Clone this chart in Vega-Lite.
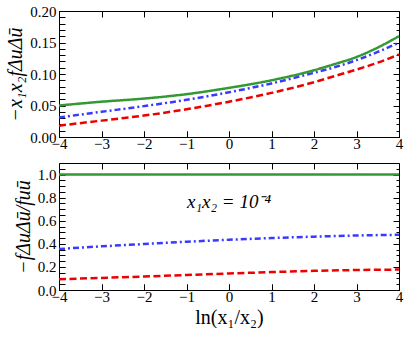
{
  "$schema": "https://vega.github.io/schema/vega-lite/v6.json",
  "padding": {"top": 4, "left": 5, "right": 9, "bottom": 0},
  "background": "white",
  "spacing": 9,
  "config": {
    "view": {"stroke": null},
    "axis": {
      "labelFont": "Liberation Serif",
      "labelFontSize": 15,
      "labelColor": "black",
      "titleFont": "Liberation Serif",
      "titleFontSize": 20,
      "titleFontWeight": "normal",
      "titleColor": "black",
      "domainColor": "black",
      "domainWidth": 1,
      "ticks": true,
      "tickColor": "black",
      "tickOpacity": 1,
      "tickWidth": 1,
      "tickSize": -6,
      "gridColor": "black",
      "gridOpacity": 1,
      "gridWidth": 1,
      "grid": false
    },
    "text": {"font": "Liberation Serif"}
  },
  "datasets": {
    "top": [
      {"series": "a", "x": -4, "y": 0.018}, {"series": "a", "x": -3, "y": 0.026}, {"series": "a", "x": -2, "y": 0.034},
      {"series": "a", "x": -1, "y": 0.044}, {"series": "a", "x": 0, "y": 0.056}, {"series": "a", "x": 1, "y": 0.070},
      {"series": "a", "x": 2, "y": 0.087}, {"series": "a", "x": 2.5, "y": 0.097}, {"series": "a", "x": 3, "y": 0.107},
      {"series": "a", "x": 3.5, "y": 0.118}, {"series": "a", "x": 4, "y": 0.131},
      {"series": "b", "x": -4, "y": 0.031}, {"series": "b", "x": -3, "y": 0.040}, {"series": "b", "x": -2, "y": 0.049},
      {"series": "b", "x": -1, "y": 0.059}, {"series": "b", "x": 0, "y": 0.071}, {"series": "b", "x": 1, "y": 0.085},
      {"series": "b", "x": 2, "y": 0.102}, {"series": "b", "x": 2.5, "y": 0.111}, {"series": "b", "x": 3, "y": 0.122},
      {"series": "b", "x": 3.5, "y": 0.135}, {"series": "b", "x": 4, "y": 0.150},
      {"series": "c", "x": -4, "y": 0.050}, {"series": "c", "x": -3, "y": 0.056}, {"series": "c", "x": -2, "y": 0.061},
      {"series": "c", "x": -1, "y": 0.068}, {"series": "c", "x": 0, "y": 0.078}, {"series": "c", "x": 1, "y": 0.090},
      {"series": "c", "x": 2, "y": 0.106}, {"series": "c", "x": 2.5, "y": 0.116}, {"series": "c", "x": 3, "y": 0.127},
      {"series": "c", "x": 3.5, "y": 0.142}, {"series": "c", "x": 4, "y": 0.160}
    ],
    "bottom": [
      {"series": "a", "x": -4, "y": 0.093}, {"series": "a", "x": -3, "y": 0.105}, {"series": "a", "x": -2, "y": 0.117},
      {"series": "a", "x": -1, "y": 0.130}, {"series": "a", "x": 0, "y": 0.143}, {"series": "a", "x": 1, "y": 0.155},
      {"series": "a", "x": 2, "y": 0.166}, {"series": "a", "x": 3, "y": 0.173}, {"series": "a", "x": 4, "y": 0.177},
      {"series": "b", "x": -4, "y": 0.355}, {"series": "b", "x": -3, "y": 0.378}, {"series": "b", "x": -2, "y": 0.398},
      {"series": "b", "x": -1, "y": 0.418}, {"series": "b", "x": 0, "y": 0.435}, {"series": "b", "x": 1, "y": 0.450},
      {"series": "b", "x": 2, "y": 0.462}, {"series": "b", "x": 3, "y": 0.472}, {"series": "b", "x": 4, "y": 0.478},
      {"series": "c", "x": -4, "y": 1.0}, {"series": "c", "x": 0, "y": 1.0}, {"series": "c", "x": 4, "y": 1.0}
    ],
    "note": [
      {"x": 0, "y": 0.76, "label": "x₁x₂ =  10⁻⁴"}
    ]
  },
  "vconcat": [
    {
      "width": 340,
      "height": 126,
      "data": {"name": "top"},
      "layer": [
        {
          "mark": {"type": "line", "strokeWidth": 2.5, "interpolate": "monotone"},
          "encoding": {
            "x": {"field": "x", "type": "quantitative",
              "scale": {"domain": [-4, 4], "nice": false, "zero": false},
              "axis": {"orient": "bottom", "title": null, "format": "d", "grid": true,
                "gridDash": {"condition": {"test": "abs(datum.value - round(datum.value)) < 1e-6", "value": [6, 114, 6, 1000]}, "value": [3, 120, 3, 1000]},
                "values": [-4,-3.75,-3.5,-3.25,-3,-2.75,-2.5,-2.25,-2,-1.75,-1.5,-1.25,-1,-0.75,-0.5,-0.25,0,0.25,0.5,0.75,1,1.25,1.5,1.75,2,2.25,2.5,2.75,3,3.25,3.5,3.75,4],
                "labelExpr": "abs(datum.value - round(datum.value)) < 1e-6 ? datum.label : ''",
                "labelPadding": 5.5, "labelFlush": false, "labelOverlap": false}},
            "y": {"field": "y", "type": "quantitative",
              "scale": {"domain": [0, 0.2], "nice": false},
              "axis": {"orient": "left", "title": "−x₁x₂fΔuΔū", "titleFontStyle": "italic", "format": ".2f", "grid": true,
                "gridDash": {"condition": {"test": "abs(datum.value*20 - round(datum.value*20)) < 1e-6", "value": [6, 328, 6, 1000]}, "value": [3, 334, 3, 1000]},
                "values": [0,0.01,0.02,0.03,0.04,0.05,0.06,0.07,0.08,0.09,0.1,0.11,0.12,0.13,0.14,0.15,0.16,0.17,0.18,0.19,0.2],
                "labelExpr": "abs(datum.value*20 - round(datum.value*20)) < 1e-6 ? datum.label : ''",
                "labelPadding": 9, "labelFlush": false, "labelOverlap": false, "titlePadding": 4}},
            "color": {"field": "series", "type": "nominal",
              "scale": {"domain": ["a", "b", "c"], "range": ["#ee0000", "#3a3aff", "#339933"]}, "legend": null},
            "strokeDash": {"field": "series", "type": "nominal",
              "scale": {"domain": ["a", "b", "c"], "range": [[7, 3.5], [6, 3, 2, 3], [1, 0]]}, "legend": null}
          }
        },
        {
          "mark": {"type": "line", "opacity": 0},
          "encoding": {
            "x": {"field": "x", "type": "quantitative",
              "axis": {"orient": "top", "title": null, "labels": false, "ticks": false}},
            "y": {"field": "y", "type": "quantitative",
              "axis": {"orient": "right", "title": null, "labels": false, "ticks": false}}
          }
        }
      ],
      "resolve": {"axis": {"x": "independent", "y": "independent"}}
    },
    {
      "width": 340,
      "height": 127,
      "layer": [
        {
          "data": {"name": "bottom"},
          "mark": {"type": "line", "strokeWidth": 2.5, "interpolate": "monotone"},
          "encoding": {
            "x": {"field": "x", "type": "quantitative",
              "scale": {"domain": [-4, 4], "nice": false, "zero": false},
              "axis": {"orient": "bottom", "title": "ln(x₁/x₂)", "format": "d", "grid": true,
                "gridDash": {"condition": {"test": "abs(datum.value - round(datum.value)) < 1e-6", "value": [6, 115, 6, 1000]}, "value": [3, 121, 3, 1000]},
                "values": [-4,-3.75,-3.5,-3.25,-3,-2.75,-2.5,-2.25,-2,-1.75,-1.5,-1.25,-1,-0.75,-0.5,-0.25,0,0.25,0.5,0.75,1,1.25,1.5,1.75,2,2.25,2.5,2.75,3,3.25,3.5,3.75,4],
                "labelExpr": "abs(datum.value - round(datum.value)) < 1e-6 ? datum.label : ''",
                "labelPadding": 5.5, "labelFlush": false, "labelOverlap": false, "titlePadding": 3}},
            "y": {"field": "y", "type": "quantitative",
              "scale": {"domain": [0, 1.1], "nice": false},
              "axis": {"orient": "left", "title": "−fΔuΔū/fuū", "titleFontStyle": "italic", "format": ".1f", "grid": true,
                "gridDash": {"condition": {"test": "abs(datum.value*5 - round(datum.value*5)) < 1e-6", "value": [6, 328, 6, 1000]}, "value": [3, 334, 3, 1000]},
                "values": [0,0.05,0.1,0.15,0.2,0.25,0.3,0.35,0.4,0.45,0.5,0.55,0.6,0.65,0.7,0.75,0.8,0.85,0.9,0.95,1.0,1.05],
                "labelExpr": "abs(datum.value*5 - round(datum.value*5)) < 1e-6 ? datum.label : ''",
                "labelPadding": 9, "labelFlush": false, "labelOverlap": false, "titlePadding": 4}},
            "color": {"field": "series", "type": "nominal",
              "scale": {"domain": ["a", "b", "c"], "range": ["#ee0000", "#3a3aff", "#339933"]}, "legend": null},
            "strokeDash": {"field": "series", "type": "nominal",
              "scale": {"domain": ["a", "b", "c"], "range": [[7, 3.5], [6, 3, 2, 3], [1, 0]]}, "legend": null}
          }
        },
        {
          "data": {"name": "bottom"},
          "mark": {"type": "line", "opacity": 0},
          "encoding": {
            "x": {"field": "x", "type": "quantitative",
              "axis": {"orient": "top", "title": null, "labels": false, "ticks": false}},
            "y": {"field": "y", "type": "quantitative",
              "axis": {"orient": "right", "title": null, "labels": false, "ticks": false}}
          }
        },
        {
          "data": {"name": "note"},
          "mark": {"type": "text", "fontSize": 19, "fontStyle": "italic", "color": "black"},
          "encoding": {
            "x": {"field": "x", "type": "quantitative", "axis": null},
            "y": {"field": "y", "type": "quantitative", "axis": null},
            "text": {"field": "label"}
          }
        }
      ],
      "resolve": {"axis": {"x": "independent", "y": "independent"}}
    }
  ]
}
